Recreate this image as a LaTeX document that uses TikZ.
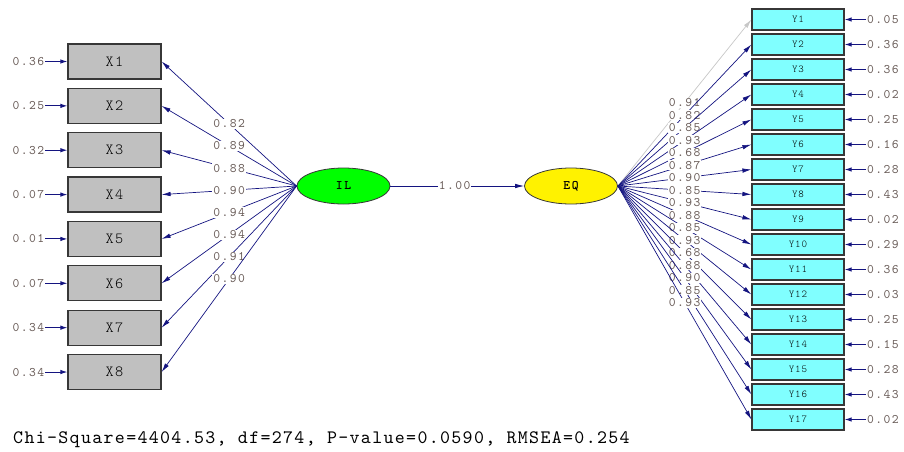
\documentclass[tikz,border=0pt]{standalone}
\usepackage{fontspec}
\usetikzlibrary{arrows.meta,shapes.geometric,positioning}
\newfontfamily\numfont[Extension=.otf,LetterSpace=11]{lmmono10-regular}
\newfontfamily\boxfont[Extension=.otf,LetterSpace=8]{lmmonolt10-regular}
\newfontfamily\latfont[Extension=.otf,LetterSpace=12]{lmmonolt10-bold}
\newfontfamily\statfont[Extension=.otf,LetterSpace=7]{lmmono10-regular}
\definecolor{pathblue}{RGB}{20,20,128}
\definecolor{boxgray}{RGB}{192,192,192}
\definecolor{boxcyan}{RGB}{128,255,255}
\definecolor{numbrown}{RGB}{105,92,88}
\definecolor{rimgray}{RGB}{55,55,55}

\begin{document}
\begin{tikzpicture}[x=1pt,y=-1pt,
    obsx/.style={draw=rimgray,line width=1.2pt,fill=boxgray,minimum width=93pt,
        minimum height=35pt,inner sep=0pt,font=\boxfont\fontsize{15.5}{15.5}\selectfont},
    obsy/.style={draw=rimgray,line width=1.2pt,fill=boxcyan,minimum width=92pt,
        minimum height=21pt,inner sep=0pt,font=\boxfont\fontsize{10.5}{10.5}\selectfont},
    latent/.style={ellipse,draw=rimgray,line width=0.8pt,minimum width=93pt,
        minimum height=36pt,inner sep=0pt,font=\latfont\fontsize{13}{13}\selectfont},
    num/.style={text=numbrown,inner sep=1pt,font=\numfont\fontsize{13}{13}\selectfont},
    load/.style={num,fill=white,pos=0.5},
    path/.style={draw=pathblue,line width=0.7pt,-{Latex[length=9pt,width=4.5pt]}},
    errarrow/.style={draw=pathblue,line width=1pt,-{Latex[length=7pt,width=4.5pt]}}]
    \useasboundingbox (0,0) rectangle (904,452);

    % Latent variables
    \node[latent,fill=green] (il) at (343.5,186) {IL};
    \node[latent,fill=yellow] (eq) at (571,186) {EQ};
    \draw[path] (il) -- node[load,pos=0.48] {1.00} (eq);

    % Exogenous indicators
    \foreach \i/\l/\e in {1/0.82/0.36,2/0.89/0.25,3/0.88/0.32,4/0.90/0.07,
                          5/0.94/0.01,6/0.94/0.07,7/0.91/0.34,8/0.90/0.34} {
        \node[obsx] (x\i) at (114.5,{61.5+44.36*(\i-1)}) {X\i};
        \node[num] (ex\i) at (28.5,{61.5+44.36*(\i-1)}) {\e};
        \draw[errarrow] (ex\i) -- (x\i.west);
        \draw[path] (il.west) -- node[load] {\l} (x\i.east);
    }

    % Endogenous indicators
    \foreach \i/\l/\e in {1/0.91/0.05,2/0.82/0.36,3/0.85/0.36,4/0.93/0.02,
                          5/0.68/0.25,6/0.87/0.16,7/0.90/0.28,8/0.85/0.43,
                          9/0.93/0.02,10/0.88/0.29,11/0.85/0.36,12/0.93/0.03,
                          13/0.68/0.25,14/0.88/0.15,15/0.90/0.28,16/0.85/0.43,
                          17/0.93/0.02} {
        \ifnum\i=1 \def\lc{black!22}\else\def\lc{pathblue}\fi
        \node[obsy] (y\i) at (798,{19.5+25*(\i-1)}) {Y\i};
        \node[num] (ey\i) at (883,{19.5+25*(\i-1)}) {\e};
        \draw[errarrow] (ey\i) -- (y\i.east);
        \draw[path,draw=\lc,-{Latex[length=9pt,width=4.5pt,color=\lc]}] (eq.east) -- node[load] {\l} (y\i.west);
    }

    % Fit statistics
    \node[anchor=west,inner sep=0pt,font=\statfont\fontsize{19}{19}\selectfont] (fit)
        at (13,440) {Chi-Square=4404.53, df=274, P-value=0.0590, RMSEA=0.254};
\end{tikzpicture}
\end{document}
